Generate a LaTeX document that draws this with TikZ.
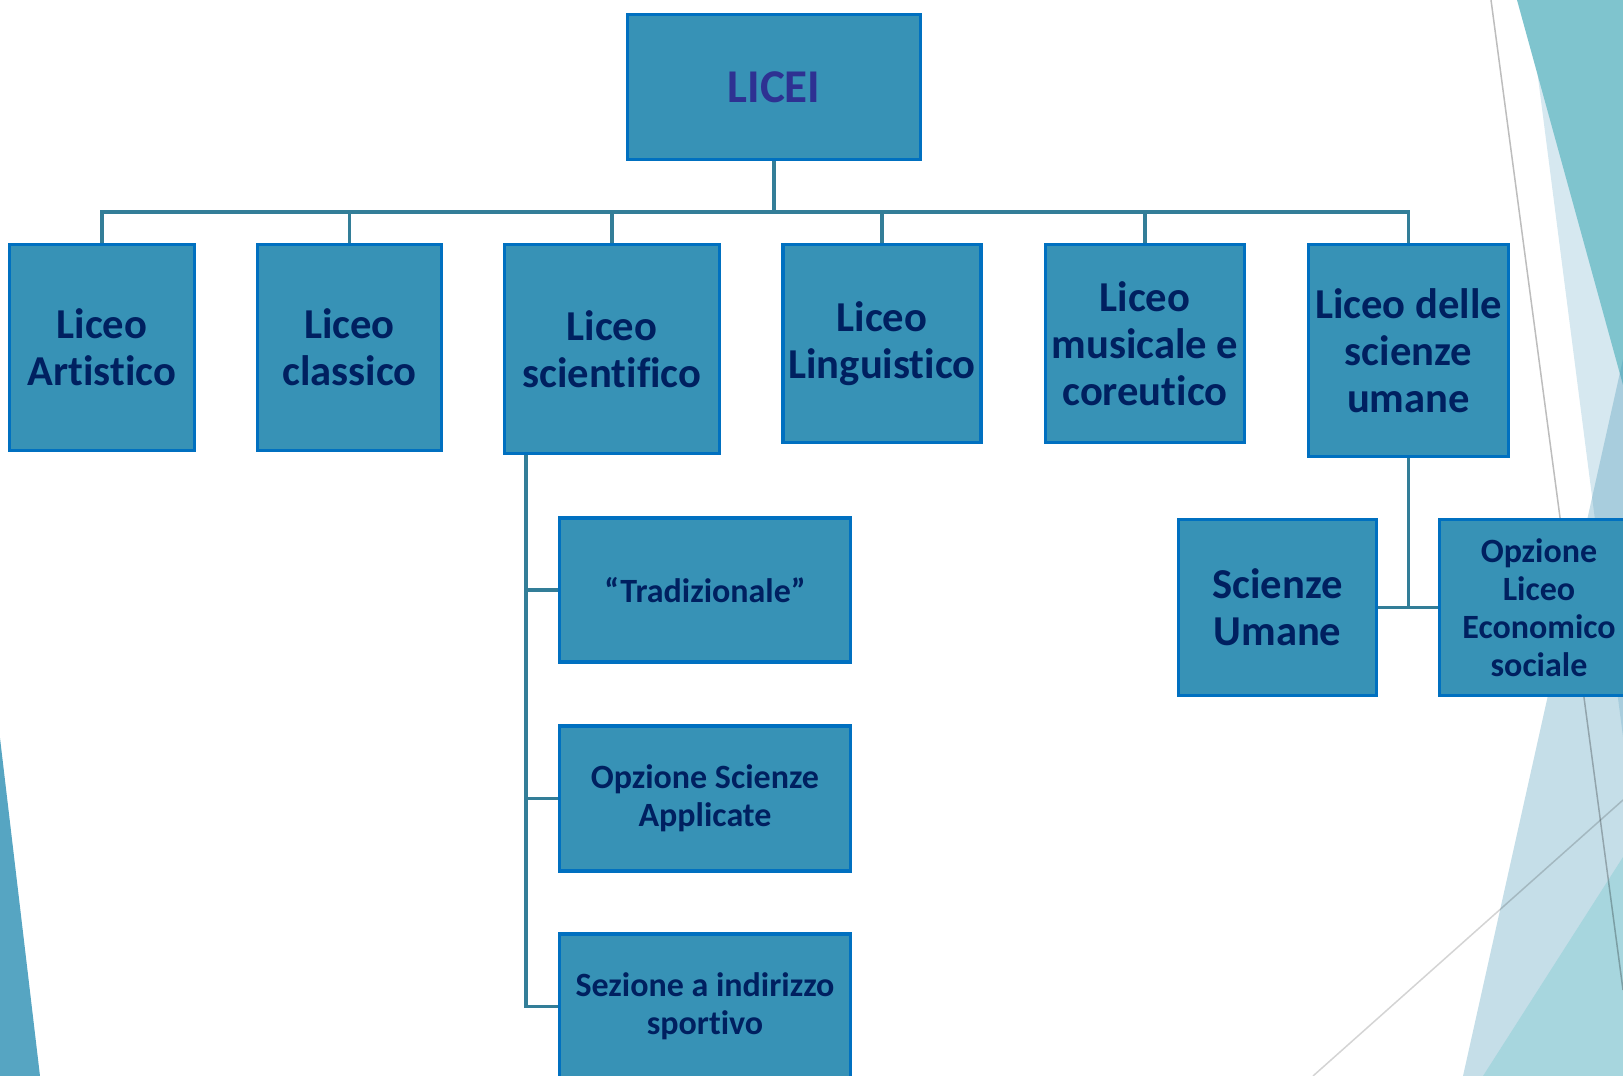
\documentclass[tikz,border=0pt]{standalone}
\usepackage{fontspec}
\setmainfont{Carlito}[Ligatures={NoCommon}]
\usepackage{tikz}
\definecolor{boxfill}{HTML}{3792B6}
\definecolor{boxline}{HTML}{0070C0}
\definecolor{navy}{HTML}{002060}
\definecolor{indigo}{HTML}{2E3192}
\definecolor{linkcol}{HTML}{337E98}
\definecolor{facetleft}{HTML}{56A5C2}
\definecolor{facetpale}{HTML}{D6E8F0}
\definecolor{facetteal}{HTML}{7FC4CE}
\definecolor{facetblue}{RGB}{62,145,178}
\definecolor{facetbot}{HTML}{A7D6DE}

\begin{document}
\begin{tikzpicture}[x=0.5pt, y=-0.5pt, thick,
    main/.style = {draw=boxline, fill=boxfill, line width=1.6pt, text=navy, align=center,
                   inner sep=2pt, font=\bfseries\fontsize{21.3}{23.5}\selectfont},
    sub/.style = {main, font=\bfseries\fontsize{17}{19}\selectfont},
    link/.style = {draw=linkcol, line width=1.8pt}]
    \useasboundingbox (0,0) rectangle (1623,1076);
    \clip (0,0) rectangle (1623,1076);

    % Background
    \fill[facetleft] (0,738) -- (0,1076) -- (40,1076) -- cycle;
    \fill[facetpale] (1528,0) -- (1623,0) -- (1623,737) -- cycle;
    \fill[facetteal] (1517,0) -- (1623,0) -- (1623,385) -- cycle;
    \fill[facetblue, opacity=0.3] (1623,359) -- (1463,1076) -- (1623,1076) -- cycle;
    \fill[facetbot] (1623,857) -- (1483,1076) -- (1623,1076) -- cycle;
    \draw[black, opacity=0.26, line width=0.75pt] (1491,0) -- (1623,990);
    \draw[black, opacity=0.17, line width=0.75pt] (1313,1076) -- (1623,800);

    % Nodes
    \node[main, text=indigo, font=\bfseries\fontsize{23.5}{26}\selectfont,
          minimum width=146.5pt, minimum height=72.5pt] (0) at (774,87) {LICEI};

    \node[main, minimum width=92.5pt, minimum height=103pt] (1) at (102,347.5) {Liceo\\Artistico};
    \node[main, minimum width=92pt, minimum height=103pt] (2) at (349.5,347.5) {Liceo\\classico};
    \node[main, minimum width=107.5pt, minimum height=104.5pt] (3) at (612,349) {Liceo\\scientifico};
    \node[main, minimum width=99pt, minimum height=99pt] (4) at (882,343.5) {Liceo\\Linguistico};
    \node[main, minimum width=99.5pt, minimum height=99pt] (5) at (1145,343.5) {Liceo\\musicale e\\coreutico};
    \node[main, minimum width=100pt, minimum height=106pt] (6) at (1408.5,350.5) {Liceo delle\\scienze\\umane};

    \node[sub, minimum width=145.5pt, minimum height=72pt] (31) at (705,590) {“Tradizionale”};
    \node[sub, minimum width=145.5pt, minimum height=72.5pt] (32) at (705,798.5) {Opzione Scienze\\Applicate};
    \node[sub, minimum width=145.5pt, minimum height=72.5pt] (33) at (705,1006.5) {Sezione a indirizzo\\sportivo};

    \node[main, minimum width=99pt, minimum height=88pt] (61) at (1277.5,607.5) {Scienze\\Umane};
    \node[sub, minimum width=99.5pt, minimum height=88pt] (62) at (1539,607.5) {Opzione\\Liceo\\Economico\\sociale};

    \coordinate (bus) at (774,212);
    \coordinate (trunk) at (526,455);

    % Edges
    \begin{scope}[on background layer/.try]
    \foreach \c in {1,2,3,4,5,6}
        \draw[link] (0.south) -- (bus) -| (\c.north);
    \foreach \s in {31,32,33}
        \draw[link] (3.south -| trunk) |- (\s.west);
    \draw[link] (6.south) -- (6.south |- 61.east);
    \draw[link] (61.east) -- (62.west);
    \end{scope}

\end{tikzpicture}
\end{document}
